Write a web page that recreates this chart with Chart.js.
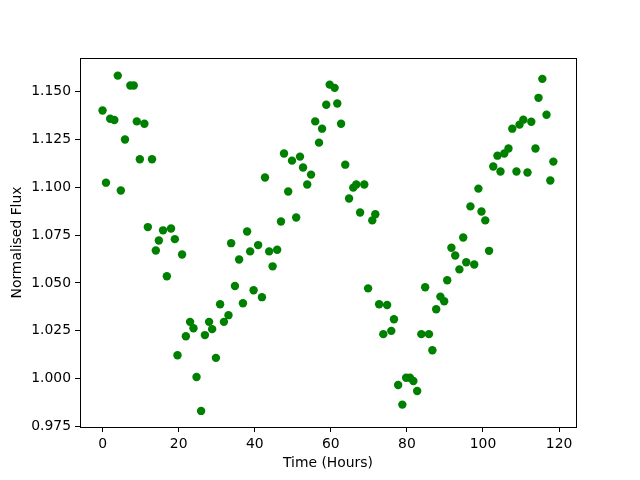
<!DOCTYPE html>
<html>
<head>
<meta charset="utf-8">
<script src="https://cdn.jsdelivr.net/npm/chart.js@4/dist/chart.umd.min.js"></script>
<style>
  html, body { margin: 0; padding: 0; background: #ffffff; }
  #wrap { width: 640px; height: 480px; position: relative; }
</style>
</head>
<body>
<div id="wrap"><canvas id="c" width="640" height="480"></canvas></div>
<script>
const timeHours = [
  0.0, 0.9, 2.0, 3.1, 4.0, 4.8, 5.9, 7.3, 8.2, 9.0,
  9.8, 11.0, 11.9, 13.0, 14.0, 14.8, 15.9, 16.9, 18.0, 19.0,
  19.7, 20.9, 21.9, 23.0, 23.9, 24.7, 25.9, 26.9, 28.0, 28.8,
  29.8, 30.9, 31.9, 33.1, 33.8, 34.8, 35.9, 36.9, 38.0, 38.8,
  39.7, 40.9, 41.9, 42.7, 43.8, 44.7, 45.9, 46.9, 47.7, 48.8,
  49.8, 50.9, 51.9, 52.7, 53.8, 54.8, 55.9, 56.9, 57.7, 58.8,
  59.7, 61.0, 61.7, 62.7, 63.8, 64.8, 65.9, 66.7, 67.7, 68.8,
  69.8, 70.9, 71.7, 72.7, 73.8, 74.8, 75.9, 76.6, 77.7, 78.8,
  79.8, 80.8, 81.7, 82.7, 83.8, 84.8, 85.8, 86.7, 87.7, 88.8,
  89.8, 90.6, 91.7, 92.7, 93.8, 94.8, 95.6, 96.7, 97.7, 98.8,
  99.6, 100.6, 101.6, 102.7, 103.8, 104.6, 105.6, 106.7, 107.7, 108.8,
  109.6, 110.6, 111.7, 112.7, 113.8, 114.6, 115.6, 116.7, 117.7, 118.5
];
const normalisedFlux = [
  1.1401, 1.1024, 1.1358, 1.1351, 1.1583, 1.0983, 1.1249, 1.1531, 1.1531, 1.1344,
  1.1146, 1.1332, 1.0792, 1.1146, 1.0670, 1.0722, 1.0775, 1.0535, 1.0785, 1.0729,
  1.0123, 1.0649, 1.0222, 1.0297, 1.0264, 1.0009, 0.9832, 1.0228, 1.0297, 1.0259,
  1.0109, 1.0389, 1.0297, 1.0332, 1.0708, 1.0484, 1.0623, 1.0394, 1.0769, 1.0665,
  1.0462, 1.0698, 1.0426, 1.1051, 1.0665, 1.0587, 1.0674, 1.0821, 1.1176, 1.0978,
  1.1139, 1.0842, 1.1160, 1.1103, 1.1014, 1.1066, 1.1344, 1.1233, 1.1306, 1.1431,
  1.1536, 1.1519, 1.1437, 1.1332, 1.1118, 1.0941, 1.0998, 1.1014, 1.0868, 1.1014,
  1.0472, 1.0827, 1.0859, 1.0389, 1.0233, 1.0385, 1.0250, 1.0311, 0.9967, 0.9865,
  1.0005, 1.0005, 0.9988, 0.9936, 1.0233, 1.0478, 1.0233, 1.0149, 1.0363, 1.0429,
  1.0405, 1.0514, 1.0684, 1.0644, 1.0571, 1.0738, 1.0608, 1.0900, 1.0597, 1.0993,
  1.0873, 1.0827, 1.0668, 1.1108, 1.1165, 1.1082, 1.1176, 1.1202, 1.1306, 1.1082,
  1.1327, 1.1353, 1.1077, 1.1342, 1.1202, 1.1467, 1.1566, 1.1379, 1.1035, 1.1134
];
const xTicks = [0, 20, 40, 60, 80, 100, 120];
const yTicks = [0.975, 1.000, 1.025, 1.050, 1.075, 1.100, 1.125, 1.150];

const points = timeHours.map((t, i) => ({ x: t, y: normalisedFlux[i] }));

const FONT = { family: 'DejaVu Sans', size: 13.9 };

const frame = {
  id: 'frame',
  afterDatasetsDraw(chart) {
    const a = chart.chartArea;
    const ctx = chart.ctx;
    ctx.save();
    ctx.strokeStyle = '#000';
    ctx.lineWidth = 1;
    ctx.strokeRect(Math.round(a.left) + 0.5, Math.round(a.top) + 0.5,
                   Math.round(a.right - a.left), Math.round(a.bottom - a.top));
    ctx.restore();
  }
};

new Chart(document.getElementById('c'), {
  type: 'scatter',
  data: {
    datasets: [{
      data: points,
      backgroundColor: '#008000',
      borderColor: '#008000',
      pointRadius: 4.2,
      pointHoverRadius: 4.2,
      borderWidth: 0
    }]
  },
  options: {
    responsive: false,
    animation: false,
    devicePixelRatio: 1,
    layout: { padding: { top: 58, right: 64, left: 0, bottom: 0 } },
    plugins: { legend: { display: false }, tooltip: { enabled: false } },
    scales: {
      x: {
        type: 'linear',
        min: -5.93,
        max: 124.45,
        afterBuildTicks: s => { s.ticks = xTicks.map(v => ({ value: v })); },
        afterFit: s => { s.height = 53; },
        grid: { drawOnChartArea: false, drawTicks: true, tickLength: 5, color: '#000', tickWidth: 1 },
        border: { display: true, color: '#000', width: 1 },
        ticks: { color: '#000', font: FONT, padding: 4, maxRotation: 0, autoSkip: false,
                 callback: v => String(v) },
        title: { display: true, text: 'Time (Hours)', color: '#000', font: FONT, padding: { top: 0, bottom: 8 } }
      },
      y: {
        type: 'linear',
        min: 0.9748,
        max: 1.1675,
        afterBuildTicks: s => { s.ticks = yTicks.map(v => ({ value: v })); },
        afterFit: s => { s.width = 80; },
        grid: { drawOnChartArea: false, drawTicks: true, tickLength: 5, color: '#000', tickWidth: 1 },
        border: { display: true, color: '#000', width: 1 },
        ticks: { color: '#000', font: FONT, padding: 4, autoSkip: false,
                 callback: v => Number(v).toFixed(3) },
        title: { display: true, text: 'Normalised Flux', color: '#000', font: FONT, padding: { top: 9, bottom: 0 } }
      }
    }
  },
  plugins: [frame]
});
</script>
</body>
</html>
